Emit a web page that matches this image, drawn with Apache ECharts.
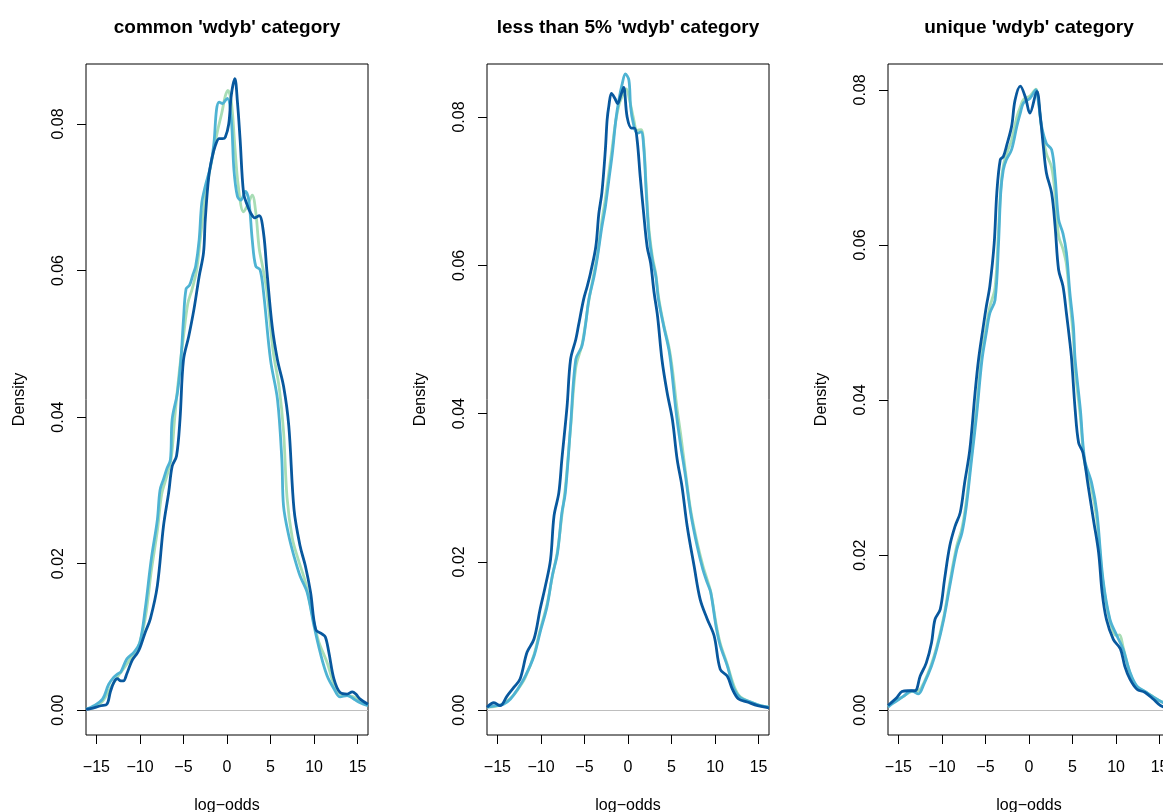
<!DOCTYPE html>
<html>
<head>
<meta charset="utf-8">
<script src="https://cdn.jsdelivr.net/npm/echarts@6/dist/echarts.min.js"></script>
<style>
html,body{margin:0;padding:0;background:#fff;}
#chart{width:1163px;height:812px;}
</style>
</head>
<body>
<div id="chart"></div>
<script>
// ---- data ----
const panelTitles = ["common 'wdyb' category", "less than 5% 'wdyb' category", "unique 'wdyb' category"];
const seriesNames = ["group A", "group B", "group C"];
const xTicks = [-15, -10, -5, 0, 5, 10, 15];
const yTicks = [0, 0.02, 0.04, 0.06, 0.08];
// first-plotted curve maxima (define each panel's y range, R style)
const panelYMax = [0.0848, 0.0838, 0.08014];

// Panel 1: common
const p1Green = [[-16.2,0.0001],[-15.3,0.0004],[-14.3,0.0012],[-13.4,0.0030],[-12.6,0.0045],[-11.8,0.0058],[-11.0,0.0072],[-10.2,0.0086],[-9.4,0.0125],[-8.7,0.0190],[-8.0,0.0245],[-7.5,0.0295],[-6.9,0.0320],[-6.4,0.0345],[-6.0,0.0400],[-5.5,0.0460],[-5.0,0.0510],[-4.5,0.0555],[-4.0,0.0575],[-3.5,0.0600],[-3.0,0.0650],[-2.5,0.0700],[-2.0,0.0735],[-1.5,0.0765],[-1.1,0.0790],[-0.6,0.0815],[-0.2,0.0838],[0.1,0.0846],[0.5,0.0830],[0.9,0.0770],[1.3,0.0715],[1.9,0.0680],[2.4,0.0690],[2.9,0.0703],[3.3,0.0680],[3.7,0.0630],[4.1,0.0605],[4.6,0.0570],[5.3,0.0490],[6.0,0.0440],[6.5,0.0380],[6.9,0.0290],[7.5,0.0235],[8.2,0.0205],[9.0,0.0175],[9.8,0.0130],[10.5,0.0095],[11.5,0.0065],[12.3,0.0035],[13.0,0.0022],[13.8,0.0020],[14.6,0.0018],[15.3,0.0012],[16.2,0.0007]];
const p1Mid = [[-16.2,0.0001],[-15.3,0.0006],[-14.3,0.0015],[-13.6,0.0035],[-13.0,0.0045],[-12.5,0.0050],[-12.2,0.0052],[-11.5,0.0070],[-10.7,0.0079],[-10.0,0.0093],[-9.4,0.0138],[-8.7,0.0206],[-8.0,0.0260],[-7.7,0.0300],[-7.3,0.0315],[-6.9,0.0330],[-6.5,0.0342],[-6.3,0.0397],[-5.7,0.0433],[-5.3,0.0478],[-5.0,0.0533],[-4.7,0.0575],[-4.3,0.0580],[-3.9,0.0595],[-3.6,0.0606],[-3.2,0.0642],[-2.9,0.0692],[-2.5,0.0715],[-1.9,0.0742],[-1.5,0.0774],[-1.2,0.0820],[-0.9,0.0830],[-0.5,0.0828],[-0.2,0.0832],[0.05,0.0835],[0.5,0.0805],[0.8,0.0737],[1.2,0.0701],[1.6,0.0696],[2.1,0.0708],[2.5,0.0696],[2.9,0.0642],[3.3,0.0606],[3.8,0.0601],[4.2,0.0570],[5.0,0.0478],[5.8,0.0424],[6.3,0.0342],[6.5,0.0278],[7.1,0.0238],[7.7,0.0210],[8.4,0.0183],[9.2,0.0161],[10.0,0.0115],[10.7,0.0079],[11.5,0.0047],[12.3,0.0029],[13.0,0.0018],[13.8,0.0020],[14.6,0.0015],[15.3,0.0010],[16.2,0.0006]];
const p1Dark = [[-16.2,0.0001],[-15.7,0.0002],[-14.5,0.0006],[-13.8,0.0008],[-13.4,0.0025],[-13.0,0.0038],[-12.6,0.0043],[-12.2,0.0040],[-11.9,0.0040],[-11.5,0.0050],[-10.9,0.0068],[-10.3,0.0078],[-10.0,0.0085],[-9.4,0.0106],[-8.8,0.0125],[-8.0,0.0170],[-7.3,0.0251],[-6.7,0.0297],[-6.3,0.0333],[-5.8,0.0347],[-5.4,0.0397],[-5.0,0.0478],[-4.4,0.0510],[-3.8,0.0547],[-3.2,0.0592],[-2.7,0.0624],[-2.5,0.0669],[-2.1,0.0728],[-1.7,0.0755],[-1.3,0.0772],[-0.9,0.0780],[-0.5,0.0780],[-0.2,0.0782],[0.2,0.0800],[0.5,0.0840],[0.9,0.0862],[1.2,0.0830],[1.5,0.0780],[1.9,0.0706],[2.3,0.0690],[2.7,0.0679],[3.2,0.0672],[3.7,0.0675],[4.2,0.0651],[4.6,0.0597],[5.2,0.0523],[5.8,0.0478],[6.5,0.0442],[7.1,0.0388],[7.7,0.0274],[8.4,0.0224],[9.0,0.0197],[9.6,0.0161],[10.2,0.0110],[10.9,0.0104],[11.3,0.0100],[11.7,0.0079],[12.3,0.0042],[13.0,0.0024],[13.8,0.0022],[14.4,0.0025],[14.8,0.0022],[15.3,0.0015],[16.2,0.0008]];

// Panel 2: less than 5%
const p2Green = [[-16.2,0.0004],[-15.2,0.0005],[-14.3,0.0009],[-13.5,0.0016],[-12.7,0.0027],[-11.8,0.0044],[-10.8,0.0075],[-10.1,0.0108],[-9.3,0.0143],[-8.7,0.0180],[-8.1,0.0215],[-7.6,0.0262],[-7.2,0.0300],[-6.6,0.0380],[-6.0,0.0462],[-5.3,0.0492],[-4.9,0.0520],[-4.5,0.0552],[-3.9,0.0590],[-3.5,0.0615],[-3.0,0.0660],[-2.6,0.0690],[-2.2,0.0725],[-1.8,0.0760],[-1.4,0.0795],[-1.0,0.0818],[-0.6,0.0830],[-0.2,0.0838],[0.2,0.0822],[0.6,0.0800],[1.05,0.0782],[1.5,0.0783],[1.8,0.0765],[2.1,0.0705],[2.4,0.0650],[2.8,0.0612],[3.2,0.0588],[3.5,0.0558],[4.1,0.0520],[4.7,0.0490],[5.1,0.0460],[5.6,0.0410],[6.1,0.0368],[6.6,0.0322],[7.2,0.0270],[7.95,0.0226],[8.6,0.0195],[9.1,0.0176],[9.5,0.0160],[10.1,0.0118],[10.6,0.0090],[11.4,0.0062],[12.2,0.0032],[12.9,0.0018],[14.1,0.0011],[15.2,0.0006],[16.2,0.0004]];
const p2Mid = [[-16.2,0.0004],[-15.2,0.0006],[-14.3,0.0008],[-13.5,0.0015],[-12.7,0.0028],[-11.8,0.0046],[-10.8,0.0073],[-10.1,0.0105],[-9.3,0.0140],[-8.7,0.0181],[-8.1,0.0212],[-7.6,0.0266],[-7.2,0.0293],[-6.6,0.0383],[-6.0,0.0473],[-5.3,0.0491],[-4.9,0.0518],[-4.5,0.0554],[-3.9,0.0585],[-3.5,0.0612],[-3.0,0.0652],[-2.6,0.0679],[-2.2,0.0715],[-1.8,0.0751],[-1.4,0.0796],[-1.05,0.0823],[-0.7,0.0843],[-0.3,0.0858],[0.1,0.0850],[0.3,0.0814],[0.6,0.0792],[1.05,0.0778],[1.5,0.0780],[1.8,0.0760],[2.1,0.0697],[2.4,0.0643],[2.8,0.0607],[3.2,0.0585],[3.5,0.0554],[4.1,0.0518],[4.7,0.0486],[5.0,0.0460],[5.5,0.0405],[6.0,0.0361],[6.6,0.0316],[7.2,0.0266],[7.95,0.0221],[8.6,0.0190],[9.1,0.0172],[9.5,0.0159],[10.1,0.0114],[10.6,0.0087],[11.4,0.0060],[12.2,0.0028],[12.9,0.0017],[14.1,0.0011],[15.2,0.0006],[16.2,0.0004]];
const p2Dark = [[-16.2,0.0004],[-15.4,0.0010],[-14.7,0.0006],[-13.9,0.0019],[-13.1,0.0031],[-12.4,0.0042],[-11.6,0.0078],[-10.8,0.0096],[-10.1,0.0136],[-9.5,0.0167],[-8.9,0.0203],[-8.5,0.0262],[-7.95,0.0293],[-7.6,0.0338],[-7.0,0.0410],[-6.6,0.0473],[-6.0,0.0500],[-5.7,0.0518],[-5.1,0.0554],[-4.7,0.0571],[-4.3,0.0590],[-3.7,0.0625],[-3.35,0.0670],[-3.0,0.0698],[-2.6,0.0756],[-2.4,0.0796],[-2.2,0.0815],[-1.9,0.0832],[-1.5,0.0825],[-1.2,0.0818],[-0.8,0.0830],[-0.5,0.0840],[-0.1,0.0800],[0.4,0.0785],[0.75,0.0785],[1.05,0.0769],[1.4,0.0720],[1.8,0.0670],[2.2,0.0625],[2.6,0.0603],[3.0,0.0563],[3.4,0.0531],[3.9,0.0473],[4.5,0.0428],[5.1,0.0392],[5.65,0.0338],[6.2,0.0302],[6.8,0.0248],[7.6,0.0194],[8.3,0.0149],[9.1,0.0123],[9.9,0.0100],[10.6,0.0055],[11.4,0.0046],[12.0,0.0028],[12.7,0.0015],[13.7,0.0011],[14.9,0.0006],[16.2,0.0003]];

// Panel 3: unique
const p3Green = [[-16.2,0.0005],[-15.6,0.0010],[-14.4,0.0018],[-13.5,0.0024],[-12.7,0.0025],[-12.1,0.0035],[-11.2,0.0060],[-10.6,0.0082],[-9.8,0.0120],[-9.1,0.0165],[-8.3,0.0212],[-7.7,0.0235],[-7.2,0.0270],[-6.6,0.0330],[-6.0,0.0392],[-5.4,0.0462],[-4.9,0.0495],[-4.5,0.0520],[-3.9,0.0545],[-3.5,0.0620],[-3.2,0.0680],[-2.9,0.0705],[-2.5,0.0720],[-2.0,0.0735],[-1.4,0.0765],[-1.0,0.0778],[-0.6,0.0788],[0.1,0.0792],[0.8,0.0801],[1.1,0.0785],[1.45,0.0750],[2.0,0.0718],[2.6,0.0700],[3.0,0.0665],[3.4,0.0612],[3.9,0.0595],[4.3,0.0575],[4.7,0.0528],[5.1,0.0480],[5.3,0.0440],[5.9,0.0378],[6.4,0.0318],[7.2,0.0285],[7.8,0.0245],[8.5,0.0165],[9.3,0.0115],[10.0,0.0096],[10.4,0.0097],[10.8,0.0082],[11.6,0.0048],[12.4,0.0030],[13.5,0.0023],[14.7,0.0014],[15.4,0.0010],[16.2,0.0006]];
const p3Mid = [[-16.2,0.0004],[-15.6,0.0009],[-14.4,0.0018],[-13.5,0.0025],[-12.7,0.0021],[-12.1,0.0033],[-11.2,0.0057],[-10.6,0.0079],[-9.8,0.0117],[-9.1,0.0160],[-8.3,0.0207],[-7.7,0.0229],[-7.2,0.0263],[-6.6,0.0323],[-6.0,0.0383],[-5.4,0.0452],[-4.9,0.0487],[-4.5,0.0512],[-3.9,0.0529],[-3.5,0.0602],[-3.25,0.0667],[-2.95,0.0697],[-2.6,0.0710],[-2.0,0.0723],[-1.4,0.0753],[-1.0,0.0770],[-0.65,0.0783],[0.1,0.0789],[0.8,0.0800],[1.1,0.0783],[1.45,0.0753],[2.0,0.0731],[2.6,0.0723],[3.0,0.0688],[3.4,0.0633],[3.9,0.0615],[4.3,0.0590],[4.7,0.0538],[5.1,0.0495],[5.3,0.0452],[5.9,0.0388],[6.4,0.0323],[7.2,0.0293],[7.8,0.0255],[8.5,0.0169],[9.3,0.0117],[10.1,0.0096],[10.8,0.0079],[11.6,0.0049],[12.4,0.0031],[13.5,0.0023],[14.7,0.0014],[15.4,0.0010],[16.2,0.0006]];
const p3Dark = [[-16.2,0.0006],[-16.0,0.0008],[-15.2,0.0016],[-14.6,0.0024],[-13.9,0.0025],[-13.1,0.0025],[-12.5,0.0044],[-11.8,0.0061],[-11.2,0.0087],[-10.8,0.0117],[-10.2,0.0130],[-9.7,0.0169],[-9.1,0.0212],[-8.5,0.0237],[-7.9,0.0255],[-7.4,0.0293],[-6.8,0.0336],[-6.2,0.0409],[-5.8,0.0452],[-5.25,0.0495],[-4.9,0.0521],[-4.5,0.0547],[-4.0,0.0602],[-3.7,0.0667],[-3.3,0.0710],[-2.95,0.0714],[-2.6,0.0727],[-2.0,0.0753],[-1.6,0.0787],[-1.0,0.0805],[-0.4,0.0790],[0.1,0.0770],[0.9,0.0798],[1.3,0.0766],[1.65,0.0727],[2.0,0.0693],[2.6,0.0667],[3.0,0.0624],[3.4,0.0568],[3.9,0.0547],[4.3,0.0512],[4.7,0.0474],[4.9,0.0452],[5.3,0.0388],[5.7,0.0345],[6.2,0.0332],[6.8,0.0289],[7.4,0.0246],[8.0,0.0203],[8.4,0.0152],[8.9,0.0117],[9.7,0.0091],[10.5,0.0079],[11.0,0.0057],[11.6,0.0040],[12.4,0.0027],[13.3,0.0023],[14.3,0.0014],[15.1,0.0006],[16.2,0.0002]];

const panelData = [[p1Green, p1Mid, p1Dark], [p2Green, p2Mid, p2Dark], [p3Green, p3Mid, p3Dark]];

// ---- style ----
const colors = ['#a8ddb5', '#4eb3d3', '#08589e'];
const FONT = '"Liberation Sans", Arial, Helvetica, sans-serif';
const xMin = -16.2, xMax = 16.2;
const gridLeft0 = 86, gridStep = 401, gridTop = 64, gridW = 282, gridH = 671;
const minus = s => String(s).replace('-', '\u2212');

const chart = echarts.init(document.getElementById('chart'), null, {renderer: 'canvas'});
const grids = [], xAxes = [], yAxes = [], series = [], titles = [];
for (let i = 0; i < 3; i++) {
  const left = gridLeft0 + gridStep * i;
  grids.push({left: left, top: gridTop, width: gridW, height: gridH, show: true,
    borderColor: '#000', borderWidth: 1, backgroundColor: 'transparent',
    containLabel: false, outerBoundsMode: 'none'});
  titles.push({text: panelTitles[i], left: left + gridW / 2, top: 18, textAlign: 'center', padding: 0,
    textStyle: {fontFamily: FONT, fontSize: 19, fontWeight: 'bold', color: '#000'}});
  xAxes.push({gridIndex: i, type: 'value', min: xMin, max: xMax, position: 'bottom',
    splitLine: {show: false}, axisLine: {show: false, onZero: false},
    axisTick: {show: true, length: 9, inside: false, lineStyle: {color: '#000', width: 1}, customValues: xTicks},
    axisLabel: {show: true, customValues: xTicks, formatter: v => minus(v), color: '#000',
      fontFamily: FONT, fontSize: 16, margin: 25},
    name: 'log\u2212odds', nameLocation: 'middle', nameGap: 63,
    nameTextStyle: {fontFamily: FONT, fontSize: 16, color: '#000'}});
  const M = panelYMax[i];
  yAxes.push({gridIndex: i, type: 'value', min: -0.04 * M, max: 1.04 * M, position: 'left',
    splitLine: {show: false}, axisLine: {show: false, onZero: false},
    axisTick: {show: true, length: 9, inside: false, lineStyle: {color: '#000', width: 1}, customValues: yTicks},
    axisLabel: {show: true, customValues: yTicks, rotate: 90, formatter: v => v.toFixed(2), color: '#000',
      fontFamily: FONT, fontSize: 16, margin: 19},
    name: 'Density', nameLocation: 'middle', nameGap: 58,
    nameTextStyle: {fontFamily: FONT, fontSize: 16, color: '#000'}});
  panelData[i].forEach((d, k) => {
    const s = {name: seriesNames[k], type: 'line', xAxisIndex: i, yAxisIndex: i, data: d,
      smooth: 0.35, showSymbol: false, symbol: 'none', clip: true,
      lineStyle: {color: colors[k], width: 2.8}, itemStyle: {color: colors[k]}, z: 3 + k};
    if (k === 0) {
      s.markLine = {silent: true, symbol: ['none', 'none'], label: {show: false}, animation: false,
        lineStyle: {color: '#bebebe', width: 1, type: 'solid'}, data: [{yAxis: 0}]};
    }
    series.push(s);
  });
}

chart.setOption({
  animation: false,
  backgroundColor: '#fff',
  title: titles,
  grid: grids,
  xAxis: xAxes,
  yAxis: yAxes,
  series: series
});
</script>
</body>
</html>
